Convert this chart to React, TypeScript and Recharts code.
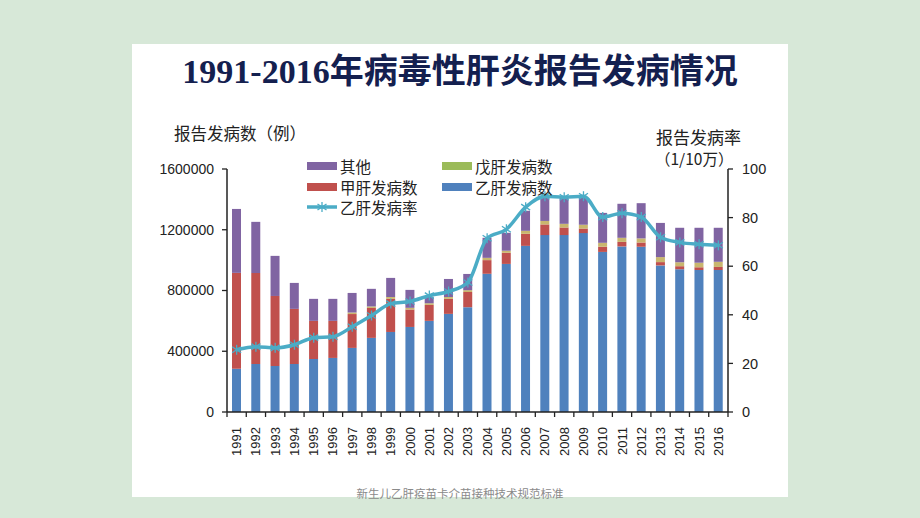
import { ComposedChart, Bar, Line, XAxis, YAxis } from 'recharts';

const years = [
  '1991', '1992', '1993', '1994', '1995', '1996', '1997', '1998', '1999', '2000', '2001', '2002', '2003',
  '2004', '2005', '2006', '2007', '2008', '2009', '2010', '2011', '2012', '2013', '2014', '2015', '2016',
];

// 乙肝发病数
const hepB = [
  285000, 316000, 303000, 316000, 349000, 356000, 422000, 488000, 527000, 560000, 600000, 646000, 690000,
  910000, 975000, 1094000, 1165000, 1165000, 1178000, 1054000, 1090000, 1088000, 965000, 940000, 935000, 935000,
];
// 甲肝发病数
const hepA = [
  631000, 599000, 461000, 363000, 251000, 244000, 223000, 197000, 218000, 115000, 105000, 99000, 100000,
  90000, 73000, 79000, 70000, 50000, 30000, 34000, 30000, 28000, 22000, 20000, 18000, 20000,
];
// 戊肝发病数
const hepE = [
  0, 0, 0, 0, 0, 0, 10000, 10000, 12000, 11000, 11000, 12000, 12000,
  15000, 14000, 20000, 23000, 24000, 25000, 26000, 27000, 27000, 33000, 26000, 30000, 34000,
];
// 其他
const others = [
  421000, 337000, 264000, 171000, 145000, 145000, 129000, 116000, 126000, 118000, 44000, 119000, 107000,
  132000, 118000, 132000, 157000, 171000, 182000, 197000, 224000, 232000, 225000, 227000, 230000, 224000,
];
// 乙肝发病率 (1/10万)
const hepBRate = [
  25.6, 26.9, 26.4, 27.7, 30.6, 31.0, 35.1, 39.7, 44.6, 45.5, 47.9, 49.6, 53.3,
  71.5, 75.2, 84.3, 88.8, 88.4, 88.8, 80.2, 81.8, 80.2, 71.9, 69.8, 69.0, 68.6,
];

const leftTicks = [0, 400000, 800000, 1200000, 1600000];
const rightTicks = [0, 20, 40, 60, 80, 100];

const data = years.map((year, i) => ({
  year,
  hepB: hepB[i],
  hepA: hepA[i],
  hepE: hepE[i],
  others: others[i],
  rate: hepBRate[i],
}));

const BLUE = '#4F81BD';
const RED = '#C0504D';
const GREEN = '#9BBB59';
const TAN = '#C9B66E';
const PURPLE = '#8064A2';
const TEAL = '#4BACC6';
const INK = '#222';

const CJK = '"Noto Sans CJK SC", "Noto Sans", sans-serif';
const NUM = '"Liberation Sans", Arial, sans-serif';

// plot box
const PLOT_LEFT = 227;
const PLOT_RIGHT = 728;
const BAND = (PLOT_RIGHT - PLOT_LEFT) / years.length;

const StarDot = (props: any) => {
  const { cx, cy } = props;
  if (cx == null || cy == null) return null;
  return (
    <g stroke={TEAL} strokeWidth={1.3}>
      <line x1={cx} y1={cy - 5} x2={cx} y2={cy + 5} />
      <line x1={cx - 4.5} y1={cy - 3} x2={cx + 4.5} y2={cy + 3} />
      <line x1={cx - 4.5} y1={cy + 3} x2={cx + 4.5} y2={cy - 3} />
    </g>
  );
};

const YearTick = (props: any) => {
  const { x, y, payload, index } = props;
  const axisY = y - 15;
  return (
    <g>
      <line x1={x - BAND / 2} y1={axisY} x2={x - BAND / 2} y2={axisY + 5} stroke={INK} strokeWidth={1.3} />
      {index === years.length - 1 && (
        <line x1={x + BAND / 2} y1={axisY} x2={x + BAND / 2} y2={axisY + 5} stroke={INK} strokeWidth={1.3} />
      )}
      <text
        transform={`translate(${x + 4.5},${y}) rotate(-90)`}
        textAnchor="end"
        fontSize={13}
        fontFamily={NUM}
        fill={INK}
      >
        {payload.value}
      </text>
    </g>
  );
};

const legendItems = [
  { label: '其他', color: PURPLE, kind: 'bar', x: 307, y: 166 },
  { label: '甲肝发病数', color: RED, kind: 'bar', x: 307, y: 187 },
  { label: '乙肝发病率', color: TEAL, kind: 'line', x: 307, y: 207 },
  { label: '戊肝发病数', color: GREEN, kind: 'bar', x: 442, y: 166 },
  { label: '乙肝发病数', color: BLUE, kind: 'bar', x: 442, y: 187 },
];

const abs = (left: number, top: number, extra: any = {}) => ({
  position: 'absolute' as const,
  left,
  top,
  whiteSpace: 'nowrap' as const,
  ...extra,
});

export default function App() {
  return (
    <div style={{ position: 'absolute', left: 0, top: 0, width: 920, height: 518, background: '#D7E8D8', overflow: 'hidden' }}>
      <div style={{ position: 'absolute', left: 132, top: 44, width: 656, height: 453, background: '#fff' }} />

      <div
        style={abs(132, 52, {
          width: 656,
          textAlign: 'center',
          fontFamily: '"Liberation Serif", "Noto Sans CJK SC", serif',
          fontWeight: 700,
          fontSize: 34,
          lineHeight: '40px',
          color: '#14204F',
        })}
      >
        1991-2016年病毒性肝炎报告发病情况
      </div>

      <div style={{ position: 'absolute', left: 0, top: 0 }}>
        <ComposedChart
          width={920}
          height={518}
          data={data}
          margin={{ top: 169, right: 142, bottom: 46, left: 157 }}
          barSize={9}
        >
          <XAxis
            dataKey="year"
            interval={0}
            tickLine={false}
            tickSize={0}
            tickMargin={15}
            height={60}
            axisLine={{ stroke: INK, strokeWidth: 1.5 }}
            tick={<YearTick />}
          />
          <YAxis
            yAxisId="left"
            width={70}
            domain={[0, 1600000]}
            ticks={leftTicks}
            interval={0}
            tickSize={5}
            tickMargin={8}
            axisLine={{ stroke: INK, strokeWidth: 1.5 }}
            tickLine={{ stroke: INK, strokeWidth: 1.3 }}
            tick={{ fontSize: 14, fill: INK, fontFamily: NUM }}
          />
          <YAxis
            yAxisId="right"
            orientation="right"
            width={50}
            domain={[0, 100]}
            ticks={rightTicks}
            interval={0}
            tickSize={5}
            tickMargin={9}
            axisLine={{ stroke: INK, strokeWidth: 1.5 }}
            tickLine={{ stroke: INK, strokeWidth: 1.3 }}
            tick={{ fontSize: 14.5, fill: INK, fontFamily: NUM }}
          />
          <Bar yAxisId="left" dataKey="hepB" name="乙肝发病数" stackId="a" fill={BLUE} isAnimationActive={false} />
          <Bar yAxisId="left" dataKey="hepA" name="甲肝发病数" stackId="a" fill={RED} isAnimationActive={false} />
          <Bar yAxisId="left" dataKey="hepE" name="戊肝发病数" stackId="a" fill={TAN} isAnimationActive={false} />
          <Bar yAxisId="left" dataKey="others" name="其他" stackId="a" fill={PURPLE} isAnimationActive={false} />
          <Line
            yAxisId="right"
            type="monotone"
            dataKey="rate"
            name="乙肝发病率"
            stroke={TEAL}
            strokeWidth={3.5}
            dot={<StarDot />}
            activeDot={false}
            isAnimationActive={false}
          />
        </ComposedChart>
      </div>

      {legendItems.map((it) => (
        <div key={it.label}>
          {it.kind === 'bar' ? (
            <div style={abs(it.x, it.y - 4, { width: 30, height: 8, background: it.color })} />
          ) : (
            <svg style={abs(it.x, it.y - 6)} width={30} height={12}>
              <line x1={0} y1={6} x2={30} y2={6} stroke={it.color} strokeWidth={3.5} />
              <StarDot cx={15} cy={6} />
            </svg>
          )}
          <div style={abs(it.x + 33, it.y - 10, { fontFamily: CJK, fontSize: 15.5, lineHeight: '20px', color: INK })}>
            {it.label}
          </div>
        </div>
      ))}

      <div style={abs(174, 122, { fontFamily: CJK, fontSize: 16.5, lineHeight: '22px', color: INK })}>
        报告发病数（例）
      </div>
      <div style={abs(656, 126, { fontFamily: CJK, fontSize: 17, lineHeight: '22px', color: INK })}>
        报告发病率
      </div>
      <div style={abs(655, 147, { fontFamily: CJK, fontSize: 15.5, lineHeight: '22px', color: INK })}>
        （1/10万）
      </div>

      <div
        style={abs(132, 486, {
          width: 656,
          textAlign: 'center',
          fontFamily: CJK,
          fontSize: 11.5,
          lineHeight: '14px',
          color: '#8a8a8a',
        })}
      >
        新生儿乙肝疫苗卡介苗接种技术规范标准
      </div>
    </div>
  );
}
